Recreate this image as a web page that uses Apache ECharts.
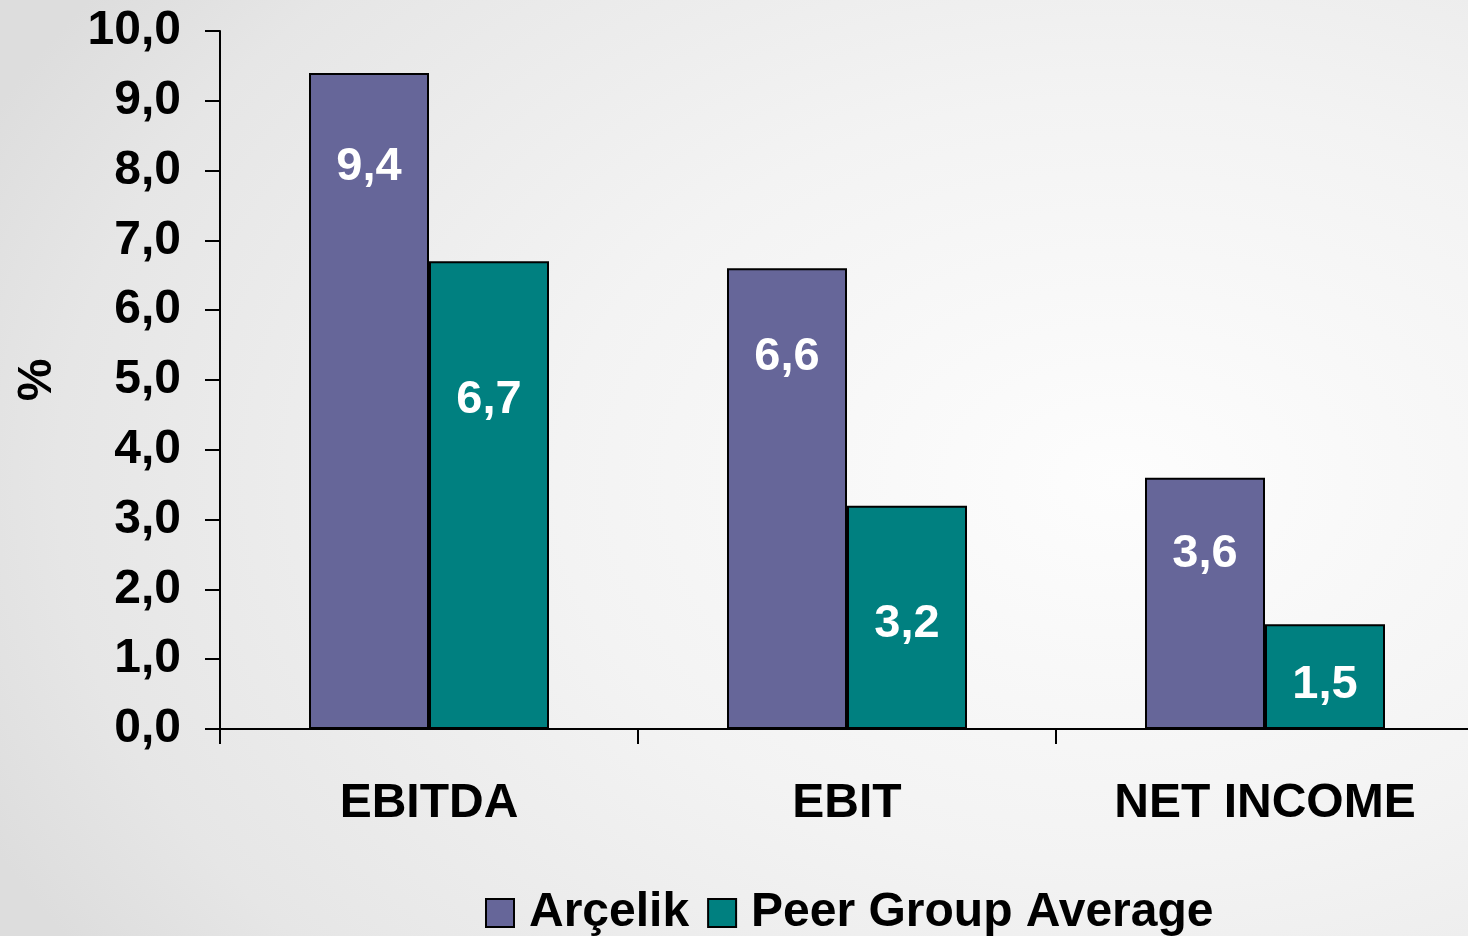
<!DOCTYPE html>
<html>
<head>
<meta charset="UTF-8">
<title>Margins</title>
<script src="https://cdn.jsdelivr.net/npm/echarts@6/dist/echarts.min.js"></script>
<style>
	html, body { margin: 0; padding: 0; }
	body {
		width: 1468px; height: 936px; overflow: hidden;
		background: radial-gradient(ellipse 1250px 850px at 1120px 480px, #fdfdfd 0%, #f3f3f3 45%, #e6e6e6 85%, #dddddd 100%);
	}
	#main { width: 1468px; height: 936px; }
</style>
</head>
<body>
<div id="main"></div>
<script>
	// data
	var categories = ['EBITDA', 'EBIT', 'NET INCOME'];
	var arcelik = [9.4, 6.6, 3.6];
	var peerAvg = [6.7, 3.2, 1.5];
	var seriesNames = ['Arçelik', 'Peer Group Average'];

	// label distance from the bar top (hand placed in the original)
	var arcelikLabelDist = [71, 65, 53];
	var peerLabelDist = [115, 95, 37];

	var FONT = 'Liberation Sans, Arial, sans-serif';

	function fmt(v) {
		return v.toFixed(1).replace('.', ',');
	}

	function buildData(values, dists) {
		return values.map(function (v, i) {
			return { value: v, label: { distance: dists[i] } };
		});
	}

	var chart = echarts.init(document.getElementById('main'));

	var labelStyle = {
		show: true,
		position: 'insideTop',
		color: '#ffffff',
		fontFamily: FONT,
		fontWeight: 'bold',
		fontSize: 47,
		formatter: function (p) { return fmt(p.value); }
	};

	var option = {
		backgroundColor: 'transparent',
		animation: false,
		grid: { left: 220, top: 31, width: 1254, height: 698, containLabel: false, outerBoundsMode: 'none' },
		legend: {
			top: 884,
			left: 480,
			itemWidth: 28,
			itemHeight: 28,
			itemGap: 18,
			icon: 'rect',
			textStyle: {
				color: '#000', fontFamily: FONT, fontWeight: 'bold', fontSize: 48,
				padding: [0, 0, 0, 10]
			},
			itemStyle: { borderColor: '#000', borderWidth: 2 },
			data: seriesNames
		},
		xAxis: {
			type: 'category',
			data: categories,
			axisLine: { show: true, lineStyle: { color: '#000', width: 2 } },
			axisTick: { show: true, length: 15, alignWithLabel: false, lineStyle: { color: '#000', width: 2 } },
			axisLabel: {
				margin: 51, color: '#000', fontFamily: FONT, fontWeight: 'bold', fontSize: 48,
				interval: 0
			}
		},
		yAxis: {
			type: 'value',
			min: 0,
			max: 10,
			interval: 1,
			name: '%',
			nameLocation: 'middle',
			nameGap: 158,
			nameRotate: 90,
			nameTextStyle: { color: '#000', fontFamily: FONT, fontWeight: 'bold', fontSize: 48 },
			axisLine: { show: true, lineStyle: { color: '#000', width: 2 } },
			axisTick: { show: true, inside: false, length: 15, lineStyle: { color: '#000', width: 2 } },
			splitLine: { show: false },
			axisLabel: {
				margin: 39, color: '#000', fontFamily: FONT, fontWeight: 'bold', fontSize: 48,
				formatter: function (v) { return fmt(v); }
			}
		},
		series: [{
			name: seriesNames[0],
			type: 'bar',
			barWidth: 120,
			barGap: '0%',
			itemStyle: { color: '#666699', borderColor: '#000', borderWidth: 2 },
			label: labelStyle,
			data: buildData(arcelik, arcelikLabelDist)
		}, {
			name: seriesNames[1],
			type: 'bar',
			barWidth: 120,
			barGap: '0%',
			itemStyle: { color: '#008080', borderColor: '#000', borderWidth: 2 },
			label: labelStyle,
			data: buildData(peerAvg, peerLabelDist)
		}]
	};

	chart.setOption(option);
</script>
</body>
</html>
